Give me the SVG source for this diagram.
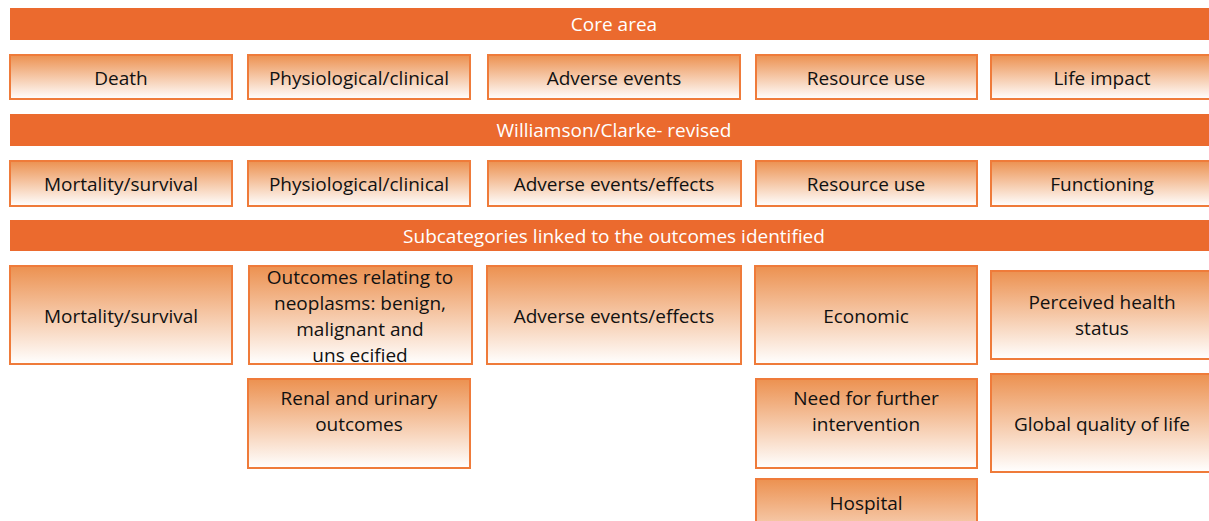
<svg xmlns="http://www.w3.org/2000/svg" width="1209" height="521" viewBox="0 0 1209 521">
<defs>
<linearGradient id="g" x1="0" y1="0" x2="0" y2="1">
<stop offset="0" stop-color="#EC9150"/>
<stop offset="1" stop-color="#FFFFFF"/>
</linearGradient>
<style>
.bar{fill:#EB6A2E}
.bt{font-family:"Open Sans","Liberation Sans",sans-serif;font-size:19px;fill:#FFFFFF;text-anchor:middle}
.box{fill:url(#g);stroke:#EF7B3A;stroke-width:2}
.t{font-family:"Open Sans","Liberation Sans",sans-serif;font-size:19px;fill:#111111;text-anchor:middle}
</style>
</defs>
<rect width="1209" height="521" fill="#FFFFFF"/>
<g id="bar-core"><rect class="bar" x="10" y="8" width="1199" height="32"/><text class="bt" x="614" y="31">Core area</text></g>
<g id="bar-williamson"><rect class="bar" x="10" y="114" width="1199" height="32"/><text class="bt" x="614" y="137">Williamson/Clarke- revised</text></g>
<g id="bar-sub"><rect class="bar" x="10" y="220" width="1199" height="31"/><text class="bt" x="614" y="243">Subcategories linked to the outcomes identified</text></g>

<g id="r1-death"><rect class="box" x="10" y="55" width="222" height="44"/><text class="t" x="121" y="85">Death</text></g>
<g id="r1-phys"><rect class="box" x="248" y="55" width="222" height="44"/><text class="t" x="359" y="85">Physiological/clinical</text></g>
<g id="r1-adverse"><rect class="box" x="488" y="55" width="252" height="44"/><text class="t" x="614" y="85">Adverse events</text></g>
<g id="r1-resource"><rect class="box" x="756" y="55" width="221" height="44"/><text class="t" x="866" y="85">Resource use</text></g>
<g id="r1-life"><rect class="box" x="991" y="55" width="222" height="44"/><text class="t" x="1102" y="85">Life impact</text></g>

<g id="r2-mortality"><rect class="box" x="10" y="161" width="222" height="45"/><text class="t" x="121" y="191">Mortality/survival</text></g>
<g id="r2-phys"><rect class="box" x="248" y="161" width="222" height="45"/><text class="t" x="359" y="191">Physiological/clinical</text></g>
<g id="r2-adverse"><rect class="box" x="488" y="161" width="253" height="45"/><text class="t" x="614" y="191">Adverse events/effects</text></g>
<g id="r2-resource"><rect class="box" x="756" y="161" width="221" height="45"/><text class="t" x="866" y="191">Resource use</text></g>
<g id="r2-functioning"><rect class="box" x="991" y="161" width="222" height="45"/><text class="t" x="1102" y="191">Functioning</text></g>

<g id="r3-mortality"><rect class="box" x="10" y="266" width="222" height="98"/><text class="t" x="121" y="323">Mortality/survival</text></g>
<g id="r3-neoplasms"><rect class="box" x="249" y="266" width="223" height="98"/><text class="t" x="360" y="284">Outcomes relating to</text><text class="t" x="360" y="310">neoplasms: benign,</text><text class="t" x="360" y="336">malignant and</text><text class="t" x="360" y="362">uns ecified</text></g>
<g id="r3-adverse"><rect class="box" x="487" y="266" width="254" height="98"/><text class="t" x="614" y="323">Adverse events/effects</text></g>
<g id="r3-economic"><rect class="box" x="755" y="266" width="222" height="98"/><text class="t" x="866" y="323">Economic</text></g>
<g id="r3-perceived"><rect class="box" x="991" y="271" width="222" height="88"/><text class="t" x="1102" y="309">Perceived health</text><text class="t" x="1102" y="335">status</text></g>
<g id="r4-renal"><rect class="box" x="248" y="379" width="222" height="89"/><text class="t" x="359" y="405">Renal and urinary</text><text class="t" x="359" y="431">outcomes</text></g>
<g id="r4-need"><rect class="box" x="756" y="379" width="221" height="89"/><text class="t" x="866" y="405">Need for further</text><text class="t" x="866" y="431">intervention</text></g>
<g id="r4-global"><rect class="box" x="991" y="374" width="222" height="98"/><text class="t" x="1102" y="431">Global quality of life</text></g>
<g id="r5-hospital"><rect class="box" x="756" y="479" width="221" height="89"/><text class="t" x="866" y="510">Hospital</text></g>
<g id="connectors"></g>
</svg>
